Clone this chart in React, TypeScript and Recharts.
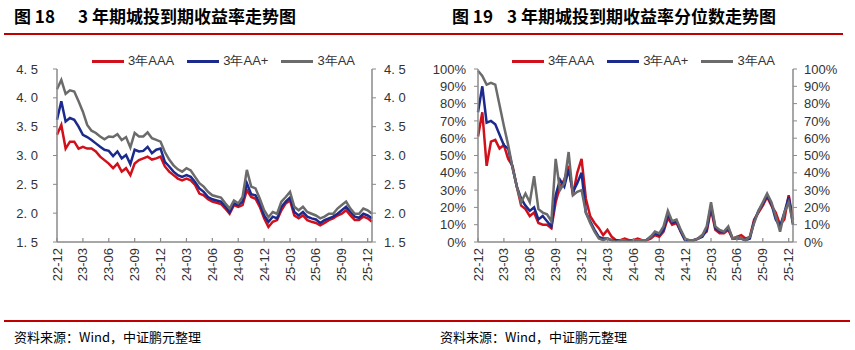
import React from 'react';
import { LineChart, Line, XAxis, YAxis } from 'recharts';

// half-month observation points, 2022-12 .. 2025-12
const dates: string[] = [];
for (let m = 0; m < 37; m++) {
  const y = 2022 + Math.floor((11 + m) / 12);
  const mo = ((11 + m) % 12) + 1;
  const ym = `${y}-${String(mo).padStart(2, '0')}`;
  dates.push(`${ym}-01`, `${ym}-16`);
}

// 3Y yield (%)
const yieldAAA = [
  3.36, 3.53, 3.12, 3.24, 3.24, 3.12, 3.15, 3.12, 3.12, 3.07, 2.98, 2.92, 2.86, 2.78, 2.86, 2.72,
  2.78, 2.66, 2.86, 2.92, 2.95, 2.98, 2.93, 2.95, 2.98, 2.81, 2.72, 2.66, 2.6, 2.57, 2.6, 2.57,
  2.49, 2.34, 2.31, 2.24, 2.2, 2.18, 2.16, 2.08, 1.99, 2.14, 2.11, 2.14, 2.4, 2.28, 2.25, 2.11,
  1.91, 1.76, 1.85, 1.88, 2.05, 2.17, 2.22, 1.96, 1.91, 1.96, 1.88, 1.85, 1.83, 1.79, 1.83, 1.88,
  1.91, 1.96, 1.99, 2.05, 1.96, 1.88, 1.88, 1.94, 1.91, 1.85,
];
const yieldAAPlus = [
  3.62, 3.94, 3.59, 3.65, 3.62, 3.5, 3.36, 3.32, 3.27, 3.21, 3.15, 3.1, 3.08, 2.99, 3.07, 2.95,
  3.01, 2.85, 3.1, 3.07, 3.08, 3.15, 3.04, 3.1, 3.12, 2.89, 2.81, 2.72, 2.66, 2.63, 2.66, 2.63,
  2.54, 2.43, 2.37, 2.28, 2.24, 2.22, 2.2, 2.12, 2.02, 2.17, 2.14, 2.2, 2.52, 2.33, 2.31, 2.17,
  1.96, 1.85, 1.94, 1.91, 2.11, 2.2, 2.27, 2.02, 1.96, 2.02, 1.94, 1.91, 1.89, 1.83, 1.88, 1.91,
  1.94, 1.99, 2.05, 2.11, 2.02, 1.94, 1.92, 1.99, 1.96, 1.91,
];
const yieldAA = [
  4.15, 4.31, 4.07, 4.13, 4.11, 3.94, 3.76, 3.53, 3.43, 3.39, 3.33, 3.28, 3.33, 3.32, 3.37, 3.27,
  3.32, 3.14, 3.39, 3.33, 3.33, 3.4, 3.3, 3.27, 3.24, 3.06, 2.93, 2.83, 2.76, 2.72, 2.78, 2.74,
  2.63, 2.52, 2.46, 2.37, 2.31, 2.29, 2.27, 2.17, 2.08, 2.22, 2.17, 2.28, 2.75, 2.46, 2.43, 2.25,
  2.05, 1.93, 2.02, 1.99, 2.2, 2.28, 2.37, 2.11, 2.05, 2.11, 2.02, 1.99, 1.96, 1.91, 1.94, 1.99,
  1.99, 2.08, 2.14, 2.2, 2.08, 1.99, 1.99, 2.08, 2.05, 1.99,
];

// 3Y yield percentile (%)
const pctAAA = [
  61, 75, 44, 58, 59, 54, 56, 48, 44, 32, 21, 19, 15, 17, 11, 10,
  10, 8, 23, 32, 36, 44, 27, 40, 48, 25, 15, 11, 8, 4, 7, 3,
  1, 1, 2, 1, 1, 2, 1, 1, 2, 4, 3, 6, 14, 10, 11, 6,
  1, 1, 1, 2, 4, 6, 19, 7, 5, 5, 7, 2, 3, 4, 2, 3,
  13, 17, 21, 26, 21, 17, 10, 13, 27, 13,
];
const pctAAPlus = [
  75, 90, 69, 70, 68, 62, 56, 54, 43, 32, 25, 21, 18, 20, 13, 15,
  12, 9, 27, 36, 32, 42, 29, 34, 40, 17, 12, 7, 3, 2, 2, 1,
  1, 1, 1, 0, 1, 1, 1, 1, 3, 5, 4, 7, 16, 11, 12, 6,
  1, 1, 1, 2, 3, 7, 21, 8, 6, 6, 8, 2, 2, 2, 1, 2,
  12, 18, 22, 27, 22, 13, 9, 17, 26, 10,
];
const pctAA = [
  99, 96, 91, 92, 91, 79, 67, 56, 43, 32, 23, 28, 23, 38, 19, 17,
  16, 12, 48, 30, 34, 52, 27, 29, 30, 17, 11, 6, 2, 1, 2, 1,
  0, 1, 1, 0, 1, 1, 1, 1, 3, 6, 5, 9, 18, 12, 13, 7,
  2, 1, 1, 2, 4, 9, 23, 9, 7, 6, 9, 2, 3, 2, 1, 3,
  11, 18, 23, 28, 23, 15, 6, 17, 23, 11,
];

const seriesNames = ['3年AAA', '3年AA+', '3年AA'];
const seriesColors = ['#D0101B', '#1B2A8C', '#6B6B6B'];
const yieldTicks = [1.5, 2, 2.5, 3, 3.5, 4, 4.5];
const pctTicks = [0, 10, 20, 30, 40, 50, 60, 70, 80, 90, 100];

const yieldData = dates.map((d, i) => ({ d, a: yieldAAA[i], b: yieldAAPlus[i], c: yieldAA[i] }));
const pctData = dates.map((d, i) => ({ d, a: pctAAA[i], b: pctAAPlus[i], c: pctAA[i] }));

const AXIS = '#8a8a8a';
const TICK_FONT = { fill: '#333', fontSize: 13, fontFamily: 'Liberation Sans, Arial, sans-serif' };
const CJK = '"Noto Sans CJK SC", "Noto Sans", sans-serif';

const DateTick = (props: any) => {
  const { x, y, payload } = props;
  const s: string = payload.value;
  const label = `${s.slice(2, 4)}-${s.slice(5, 7)}`;
  return (
    <g>
      <line x1={x} y1={y} x2={x} y2={y - 4} stroke={AXIS} strokeWidth={1.2} />
      <text
        x={x}
        y={y + 6}
        transform={`rotate(-90 ${x} ${y + 6})`}
        textAnchor="end"
        dominantBaseline="central"
        {...TICK_FONT}
      >
        {label}
      </text>
    </g>
  );
};

function LegendRow({ left }: { left: number }) {
  return (
    <div style={{ position: 'absolute', top: 52, left, display: 'flex', gap: 13, fontFamily: TICK_FONT.fontFamily, fontSize: 13, color: '#333' }}>
      {seriesNames.map((n, i) => (
        <div key={n} style={{ display: 'flex', alignItems: 'center' }}>
          <span style={{ display: 'inline-block', width: 32, height: 3, background: seriesColors[i], marginRight: 4 }} />
          <span>{n}</span>
        </div>
      ))}
    </div>
  );
}

function Panel({ data, ticks, domain, fmt, leftMargin, rightMargin }: any) {
  return (
    <LineChart width={430} height={300} data={data} margin={{ top: 69, right: 0, bottom: 0, left: 0 }}>
      <XAxis
        dataKey="d"
        interval={5}
        height={58}
        tickSize={0}
        tickMargin={0}
        tick={<DateTick />}
        axisLine={{ stroke: AXIS, strokeWidth: 1.5 }}
      />
      <YAxis
        yAxisId="l"
        domain={domain}
        ticks={ticks}
        interval={0}
        width={57}
        tickSize={4}
        tickMargin={leftMargin}
        tickFormatter={fmt}
        tick={TICK_FONT}
        axisLine={{ stroke: AXIS, strokeWidth: 1.5 }}
        tickLine={{ stroke: AXIS }}
        allowDataOverflow
      />
      <YAxis
        yAxisId="r"
        orientation="right"
        domain={domain}
        ticks={ticks}
        interval={0}
        width={58}
        tickSize={4}
        tickMargin={rightMargin}
        tickFormatter={fmt}
        tick={{ ...TICK_FONT, textAnchor: 'start' }}
        axisLine={{ stroke: AXIS, strokeWidth: 1.5 }}
        tickLine={{ stroke: AXIS }}
        allowDataOverflow
      />
      {['a', 'b', 'c'].map((k, i) => (
        <Line
          key={k}
          yAxisId="l"
          type="linear"
          dataKey={k}
          stroke={seriesColors[i]}
          strokeWidth={2.5}
          dot={false}
          isAnimationActive={false}
        />
      ))}
    </LineChart>
  );
}

const titleStyle: React.CSSProperties = {
  position: 'absolute',
  top: 3,
  fontFamily: CJK,
  fontWeight: 700,
  fontSize: 17,
  color: '#000',
  whiteSpace: 'pre',
};
const sourceStyle: React.CSSProperties = {
  position: 'absolute',
  top: 327,
  fontFamily: CJK,
  fontSize: 13,
  color: '#000',
};

export default function App() {
  return (
    <div style={{ position: 'absolute', left: 0, top: 0, width: 855, height: 350, background: '#fff', overflow: 'hidden' }}>
      <div style={{ ...titleStyle, left: 14 }}>图 18</div>
      <div style={{ ...titleStyle, left: 78 }}>3 年期城投到期收益率走势图</div>
      <div style={{ ...titleStyle, left: 452 }}>图 19</div>
      <div style={{ ...titleStyle, left: 507 }}>3 年期城投到期收益率分位数走势图</div>
      <div style={{ position: 'absolute', left: 4, top: 33, width: 426, height: 1.5, background: '#C00000' }} />
      <div style={{ position: 'absolute', left: 424, top: 33, width: 419, height: 1.5, background: '#C00000' }} />

      <LegendRow left={92} />
      <LegendRow left={512} />

      <div style={{ position: 'absolute', left: 0, top: 0 }}>
        <Panel
          data={yieldData}
          ticks={yieldTicks}
          domain={[1.5, 4.5]}
          fmt={(v: number) => v.toFixed(1).replace('.', '. ')}
          leftMargin={15}
          rightMargin={8}
        />
      </div>
      <div style={{ position: 'absolute', left: 421, top: 0 }}>
        <Panel
          data={pctData}
          ticks={pctTicks}
          domain={[0, 100]}
          fmt={(v: number) => `${v}%`}
          leftMargin={8}
          rightMargin={7}
        />
      </div>

      <div style={{ position: 'absolute', left: 4, top: 320, width: 846, height: 1.5, background: '#C00000' }} />
      <div style={{ ...sourceStyle, left: 14 }}>资料来源：Wind，中证鹏元整理</div>
      <div style={{ ...sourceStyle, left: 440 }}>资料来源：Wind，中证鹏元整理</div>
    </div>
  );
}
